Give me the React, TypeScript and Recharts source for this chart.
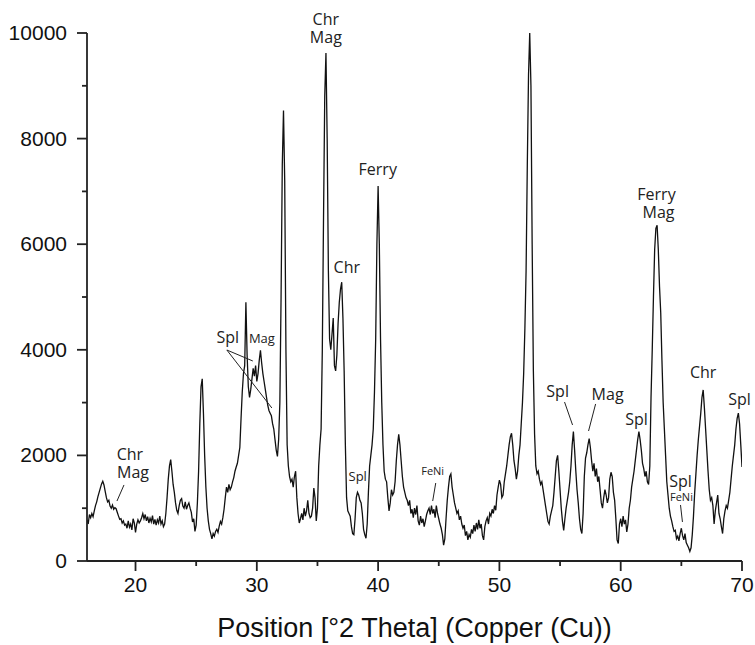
import React from 'react';
import { LineChart, Line, XAxis, YAxis, ReferenceDot, ReferenceLine, Label } from 'recharts';

// 2-theta grid: 16.0 .. 70.0 in 0.1 steps (one row per degree)
const thetaStart = 16;
const thetaStep = 0.1;
const counts: number[] = [
  780, 700, 880, 820, 900, 840, 950, 1050, 1120, 1220, // 16
  1300, 1380, 1460, 1510, 1440, 1320, 1200, 1120, 1150, 1040, // 17
  1000, 1060, 980, 1010, 990, 920, 850, 790, 800, 720, // 18
  760, 680, 700, 620, 760, 640, 700, 590, 800, 720, // 19
  540, 700, 780, 720, 760, 820, 900, 800, 880, 760, // 20
  840, 720, 810, 740, 860, 700, 790, 680, 780, 720, // 21
  850, 700, 760, 650, 700, 900, 1200, 1550, 1800, 1920, // 22
  1700, 1450, 1300, 1100, 960, 900, 1050, 1150, 1180, 1040, // 23
  1000, 1120, 980, 1050, 1100, 1000, 920, 740, 800, 560, // 24
  680, 1100, 1700, 2600, 3300, 3450, 2800, 2000, 1400, 1000, // 25
  760, 600, 520, 420, 520, 470, 560, 600, 540, 660, // 26
  750, 700, 820, 980, 1200, 1400, 1300, 1450, 1350, 1400, // 27
  1500, 1580, 1700, 1780, 1850, 2000, 2150, 2700, 3200, 3550, // 28
  3700, 4900, 3900, 3300, 3100, 3250, 3450, 3650, 3500, 3700, // 29
  3400, 3550, 3800, 3990, 3750, 3550, 3400, 3250, 3100, 2950, // 30
  2850, 2800, 2750, 2600, 2500, 2300, 2100, 1980, 2300, 3000, // 31
  5000, 7500, 8530, 7200, 4000, 2200, 1800, 1600, 1500, 1550, // 32
  1400, 1600, 1700, 1200, 900, 720, 800, 900, 780, 1000, // 33
  850, 950, 1150, 900, 820, 850, 1000, 1380, 1200, 760, // 34
  1000, 1800, 2200, 2500, 4000, 6500, 8800, 9620, 8000, 5500, // 35
  4200, 4000, 4300, 4600, 3700, 3600, 3900, 4500, 4900, 5150, // 36
  5280, 4600, 3600, 2200, 1200, 950, 900, 850, 650, 520, // 37
  500, 800, 1200, 1300, 1250, 1150, 1100, 900, 600, 500, // 38
  430, 700, 1300, 1800, 2000, 2200, 2500, 3200, 4200, 6000, // 39
  7100, 6000, 4200, 3000, 2200, 1700, 1550, 1500, 1200, 950, // 40
  1100, 1350, 1250, 1300, 1500, 1900, 2200, 2400, 2200, 1900, // 41
  1600, 1400, 1300, 1200, 1150, 1050, 1150, 900, 980, 820, // 42
  1000, 880, 1050, 760, 680, 850, 720, 800, 650, 760, // 43
  880, 950, 1000, 880, 1050, 900, 980, 820, 1050, 900, // 44
  800, 700, 620, 500, 300, 420, 800, 1150, 1400, 1600, // 45
  1650, 1400, 1250, 1100, 1000, 900, 950, 780, 850, 700, // 46
  620, 680, 480, 560, 400, 500, 450, 600, 520, 680, // 47
  560, 720, 600, 780, 620, 700, 480, 400, 650, 760, // 48
  820, 700, 900, 850, 980, 900, 1050, 960, 1250, 1400, // 49
  1530, 1450, 1200, 1250, 1500, 1650, 1800, 2000, 2200, 2350, // 50
  2420, 2200, 1900, 1750, 1550, 1700, 2000, 2200, 2600, 3000, // 51
  3550, 4400, 5500, 7500, 9200, 10000, 9000, 6000, 3600, 2400, // 52
  1800, 1650, 1700, 1550, 1450, 1500, 1350, 1200, 1050, 900, // 53
  750, 700, 850, 950, 1050, 1300, 1600, 1900, 2000, 1700, // 54
  1350, 1000, 750, 580, 800, 1000, 1150, 1300, 1500, 1800, // 55
  2200, 2450, 2100, 1700, 1350, 1100, 800, 600, 520, 900, // 56
  1600, 1950, 2050, 2200, 2320, 2150, 1900, 1700, 1850, 1600, // 57
  1750, 1500, 1600, 1350, 1100, 1000, 1200, 1350, 1250, 1100, // 58
  1200, 1550, 1680, 1600, 1300, 1150, 800, 400, 330, 700, // 59
  800, 650, 850, 700, 780, 550, 700, 1000, 1150, 1400, // 60
  1550, 1700, 1900, 2100, 2300, 2450, 2300, 2100, 1850, 1750, // 61
  1600, 1700, 1500, 1450, 1800, 3100, 4000, 5000, 5900, 6300, // 62
  6360, 5900, 5200, 4700, 3800, 3000, 2500, 2000, 1500, 1250, // 63
  1000, 850, 760, 650, 560, 580, 420, 470, 380, 520, // 64
  620, 480, 400, 520, 350, 300, 250, 180, 250, 500, // 65
  850, 1300, 1650, 2000, 2300, 2550, 2800, 3100, 3240, 2900, // 66
  2500, 2100, 1700, 1350, 1150, 1200, 1050, 700, 950, 1100, // 67
  1250, 900, 800, 650, 520, 800, 950, 1050, 1000, 1150, // 68
  1300, 1550, 1800, 2000, 2200, 2500, 2700, 2800, 2600, 2200, // 69
  1780, // 70
];

const xTicks = [20, 25, 30, 35, 40, 45, 50, 55, 60, 65, 70];
const xLabelTicks = [20, 30, 40, 50, 60, 70];
const yTicks = [0, 1000, 2000, 3000, 4000, 5000, 6000, 7000, 8000, 9000, 10000];
const yLabelTicks = [0, 2000, 4000, 6000, 8000, 10000];
const xTitle = 'Position [°2 Theta] (Copper (Cu))';

// phase annotations: text, anchor (theta, counts), font size
const annotations = [
  { text: 'Chr', x: 35.69, y: 10150, size: 16 },
  { text: 'Mag', x: 35.69, y: 9810, size: 16 },
  { text: 'Chr', x: 37.42, y: 5450, size: 16 },
  { text: 'Ferry', x: 39.97, y: 7310, size: 16 },
  { text: 'Ferry', x: 62.95, y: 6840, size: 16 },
  { text: 'Mag', x: 63.12, y: 6500, size: 16 },
  { text: 'Chr', x: 19.54, y: 1910, size: 16 },
  { text: 'Mag', x: 19.79, y: 1570, size: 16 },
  { text: 'Spl', x: 27.61, y: 4130, size: 16 },
  { text: 'Mag', x: 30.42, y: 4130, size: 13 },
  { text: 'Spl', x: 38.32, y: 1515, size: 13 },
  { text: 'FeNi', x: 44.5, y: 1630, size: 11 },
  { text: 'Spl', x: 54.8, y: 3100, size: 16 },
  { text: 'Mag', x: 58.92, y: 3050, size: 16 },
  { text: 'Spl', x: 61.31, y: 2576, size: 16 },
  { text: 'Chr', x: 66.8, y: 3466, size: 16 },
  { text: 'Spl', x: 69.79, y: 2955, size: 16 },
  { text: 'Spl', x: 64.93, y: 1400, size: 16 },
  { text: 'FeNi', x: 65.01, y: 1136, size: 11 },
];

// leader lines: [theta1, counts1, theta2, counts2]
const leaders = [
  [19.05, 1440, 18.47, 1136],
  [27.53, 3996, 29.67, 3788],
  [27.53, 3996, 31.24, 2898],
  [44.75, 1477, 44.5, 1136],
  [55.37, 3011, 56.03, 2576],
  [57.93, 2974, 57.35, 2462],
  [64.93, 1061, 65.09, 739],
];

const data = counts.map((c, i) => ({
  theta: Math.round((thetaStart + i * thetaStep) * 10) / 10,
  counts: c,
}));

const AXIS_COLOR = '#222';
const TICK_FONT = '"Liberation Sans", Arial, sans-serif';
const NOTE_FONT = '"Open Sans", "Noto Sans", sans-serif';

const XTick = (props: any) => {
  const { x, y, payload } = props;
  const major = xLabelTicks.includes(payload.value);
  return (
    <g>
      <line x1={x} x2={x} y1={y} y2={y + (major ? 10 : 5)} stroke={AXIS_COLOR} strokeWidth={1.8} />
      {major && (
        <text x={x} y={y + 31} textAnchor="middle" fontSize={21} fontFamily={TICK_FONT} fill="#111">
          {payload.value}
        </text>
      )}
    </g>
  );
};

const YTick = (props: any) => {
  const { x, y, payload } = props;
  const major = yLabelTicks.includes(payload.value);
  return (
    <g>
      <line x1={x - (major ? 10 : 5)} x2={x} y1={y} y2={y} stroke={AXIS_COLOR} strokeWidth={1.8} />
      {major && (
        <text x={x - 20} y={y + 7} textAnchor="end" fontSize={21} fontFamily={TICK_FONT} fill="#111">
          {payload.value}
        </text>
      )}
    </g>
  );
};

const renderTitle = (props: any) => {
  const vb = props.viewBox || {};
  return (
    <text
      x={vb.x + vb.width / 2}
      y={vb.y + 76}
      textAnchor="middle"
      fontSize={27}
      fontFamily={TICK_FONT}
      fill="#111"
    >
      {xTitle}
    </text>
  );
};

export default function App() {
  return (
    <div style={{ position: 'fixed', left: 0, top: 0, width: 755, height: 645, background: '#fff' }}>
      <LineChart
        width={755}
        height={645}
        data={data}
        margin={{ top: 33, right: 13, bottom: 0, left: 0 }}
      >
        <XAxis
          dataKey="theta"
          type="number"
          domain={[16, 70]}
          ticks={xTicks}
          tick={<XTick />}
          tickSize={0}
          tickMargin={0}
          tickLine={false}
          axisLine={{ stroke: AXIS_COLOR, strokeWidth: 1.8 }}
          height={84}
          allowDataOverflow
          interval={0}
        >
          <Label content={renderTitle} />
        </XAxis>
        <YAxis
          type="number"
          domain={[0, 10000]}
          ticks={yTicks}
          tick={<YTick />}
          tickSize={0}
          tickMargin={0}
          tickLine={false}
          axisLine={{ stroke: AXIS_COLOR, strokeWidth: 1.8 }}
          width={87}
          allowDataOverflow
          interval={0}
        />
        <Line
          type="linear"
          dataKey="counts"
          stroke="#111"
          strokeWidth={1.3}
          dot={false}
          isAnimationActive={false}
        />
        {leaders.map((l, i) => (
          <ReferenceLine
            key={'l' + i}
            segment={[{ x: l[0], y: l[1] }, { x: l[2], y: l[3] }]}
            stroke="#222"
            strokeWidth={1}
            ifOverflow="visible"
          />
        ))}
        {annotations.map((a, i) => (
          <ReferenceDot
            key={'a' + i}
            x={a.x}
            y={a.y}
            r={1}
            ifOverflow="visible"
            shape={(p: any) => (
              <text
                x={p.cx}
                y={p.cy}
                textAnchor="middle"
                fontSize={a.size}
                fontFamily={NOTE_FONT}
                fill="#222"
              >
                {a.text}
              </text>
            )}
          />
        ))}
      </LineChart>
    </div>
  );
}
